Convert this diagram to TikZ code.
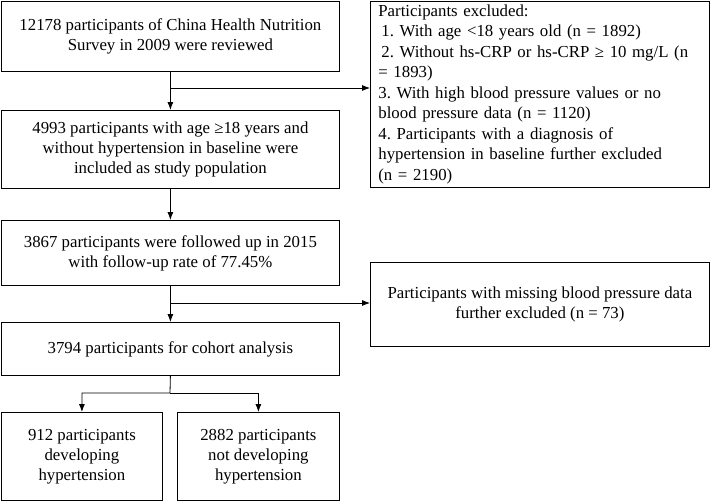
\documentclass[tikz,border=0pt]{standalone}
\usepackage{fontspec}
\setmainfont{Liberation Serif}
\usetikzlibrary{arrows.meta}
\frenchspacing

\tikzset{
    stagebox/.style={draw, line width=0.8pt, anchor=north west, align=center, inner sep=0pt,
        font=\fontsize{16.8}{20}\selectfont},
    exclbox/.style={stagebox, align=left, inner xsep=8pt, text width=323pt,
        font=\fontsize{16.8}{20.5}\selectfont},
    flowarrow/.style={line width=0.8pt, -{Latex[length=8pt,width=6pt]}}
}

\begin{document}
\begin{tikzpicture}[x=1pt, y=-1pt]
            \useasboundingbox (0, 0) rectangle (710, 501);
            \node[stagebox, minimum width=338pt, minimum height=70.5pt] (reviewed) at (1, 0.5)
                {12178 participants of China Health Nutrition\\Survey in 2009 were reviewed};
            \node[stagebox, minimum width=338pt, minimum height=78pt] (included) at (1, 110)
                {4993 participants with age ≥18 years and\\without hypertension in baseline were\\included as study population};
            \node[stagebox, minimum width=338pt, minimum height=65pt] (followed) at (1, 220)
                {3867 participants were followed up in 2015\\with follow-up rate of 77.45\%};
            \node[stagebox, minimum width=338pt, minimum height=53pt] (cohort) at (1, 322)
                {3794 participants for cohort analysis};
            \node[stagebox, minimum width=161pt, minimum height=88pt] (developing) at (1, 412)
                {912 participants\\developing\\hypertension};
            \node[stagebox, minimum width=162pt, minimum height=88pt] (notdeveloping) at (177, 412)
                {2882 participants\\not developing\\hypertension};
            \node[exclbox, minimum width=339pt, minimum height=186.5pt] (excluded) at (370, 0.5)
                {Participants excluded:\\
                \hspace*{3pt}1. With age <18 years old (n = 1892)\\
                \hspace*{3pt}2. Without hs-CRP or hs-CRP ≥ 10 mg/L (n\\
                = 1893)\\
                3. With high blood pressure values or no\\
                blood pressure data (n = 1120)\\
                4. Participants with a diagnosis of\\
                hypertension in baseline further excluded\\
                (n = 2190)};
            \node[stagebox, minimum width=339pt, minimum height=84pt] (missing) at (370, 262)
                {Participants with missing blood pressure data\\further excluded (n = 73)};
            \coordinate (firstsplit) at (170, 88);
            \coordinate (secondsplit) at (170, 303);
            \coordinate (groupsplit) at (170, 393);
            \draw[flowarrow] (reviewed.south) -- (included.north);
            \draw[flowarrow] (firstsplit) -- (firstsplit -| excluded.west);
            \draw[flowarrow] (included.south) -- (followed.north);
            \draw[flowarrow] (followed.south) -- (cohort.north);
            \draw[flowarrow] (secondsplit) -- (secondsplit -| missing.west);
            \draw[flowarrow] (cohort.south) -- (groupsplit) -| (developing.north);
            \draw[flowarrow] (groupsplit) -| (notdeveloping.north);
        \end{tikzpicture}
\end{document}
